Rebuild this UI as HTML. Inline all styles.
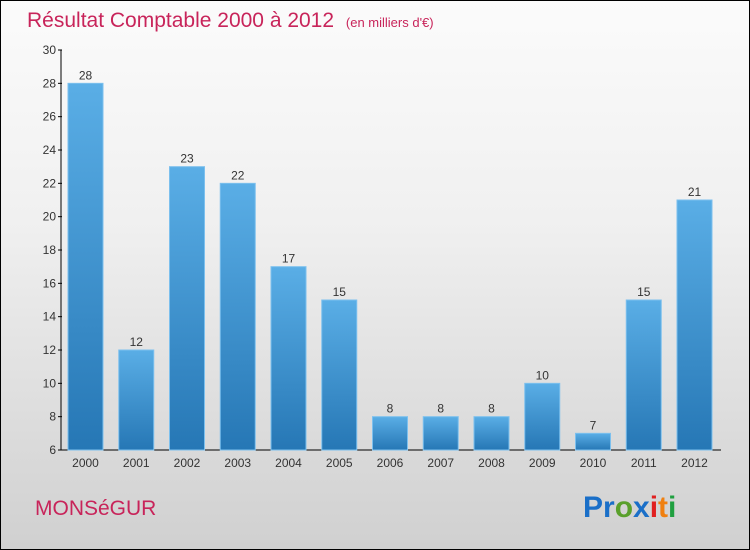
<!DOCTYPE html>
<html><head><meta charset="utf-8"><style>
body{margin:0}
#c{width:748px;height:548px;border:1px solid #000;background:linear-gradient(#fbfbfb,#f0f0f0 40%,#d0d0d0);position:relative;font-family:"Liberation Sans",sans-serif;overflow:hidden}
</style></head><body>
<div id="c">
<svg id="s" width="748" height="548">
<defs><linearGradient id="g" x1="0" y1="0" x2="0" y2="1"><stop offset="0" stop-color="#5aaee6"/><stop offset="1" stop-color="#2677b5"/></linearGradient></defs>
<text x="26" y="26" font-size="21" fill="#c8245a">Résultat Comptable 2000 à 2012 <tspan font-size="13" dx="6">(en milliers d'€)</tspan></text>
<text x="34" y="514" font-size="21" fill="#c8245a">MONSéGUR</text>
<text x="582" y="516" font-size="30" font-weight="bold"><tspan fill="#1a6fc8">Pr</tspan><tspan fill="#5aa02c">o</tspan><tspan fill="#1a6fc8">x</tspan><tspan fill="#e02020">i</tspan><tspan fill="#f08010">t</tspan><tspan fill="#20a040">i</tspan></text>
<g id="plot"></g>
</svg></div>
<script>
const categories=["2000","2001","2002","2003","2004","2005","2006","2007","2008","2009","2010","2011","2012"];
const values=[28,12,23,22,17,15,8,8,8,10,7,15,21];
const ticks=[6,8,10,12,14,16,18,20,22,24,26,28,30];
const NS="http://www.w3.org/2000/svg";
const g=document.getElementById('plot');
const y=v=>449-(v-6)*(400/24);
const x=i=>84.5+i*50.75;
function mk(t,a,txt){const e=document.createElementNS(NS,t);for(const k in a)e.setAttribute(k,a[k]);if(txt!==undefined)e.textContent=txt;g.appendChild(e);return e;}
let e=mk('line',{x1:60,y1:49,x2:60,y2:449,stroke:'#000'});


e=mk('line',{x1:60,y1:449,x2:720,y2:449,stroke:'#000'});


ticks.forEach(t=>{
 e=mk('line',{x1:57,y1:y(t),x2:61,y2:y(t),stroke:'#000'});
 
 
 e=mk('text',{x:55,y:y(t)+4,'font-size':12,fill:'#333','text-anchor':'end'},t);
 
 
});
categories.forEach((c,i)=>{
 const v=values[i];
 e=mk('rect',{x:x(i)-17.5,y:y(v),width:35,height:449-y(v),fill:'url(#g)',stroke:'#7cc0ee','stroke-width':1});
 
 
 e=mk('text',{x:x(i),y:y(v)-4,'font-size':12,fill:'#333','text-anchor':'middle'},v);
 
 
 e=mk('text',{x:x(i),y:466,'font-size':12,fill:'#333','text-anchor':'middle'},c);
 
 
});
</script>
</body></html>
